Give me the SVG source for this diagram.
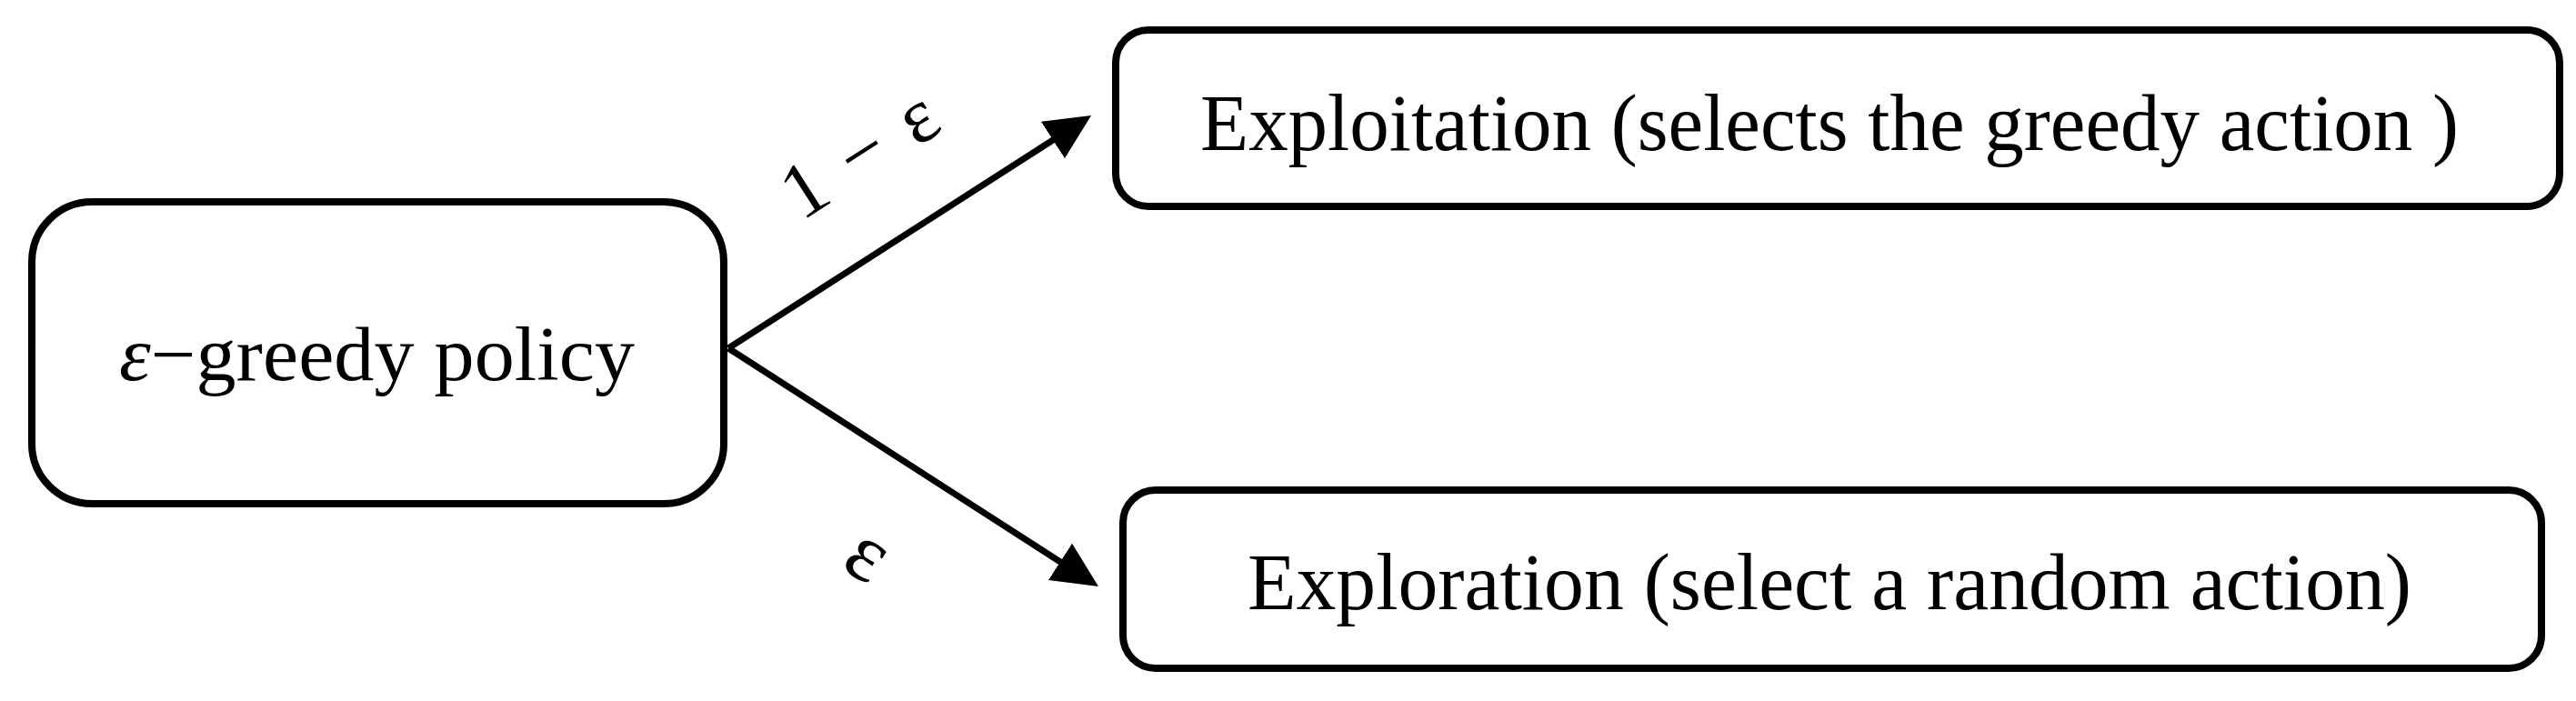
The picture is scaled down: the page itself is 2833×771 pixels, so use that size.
<svg xmlns="http://www.w3.org/2000/svg" width="2833" height="771" viewBox="0 0 2833 771">
  <style>
    .box { fill: #ffffff; stroke: #000000; stroke-width: 8; }
    .lbl { font-family: "Liberation Serif", "Times New Roman", serif; fill: #000000; }
    .edge { stroke: #000000; stroke-width: 7; fill: none; marker-end: url(#arrow); }
  </style>
  <defs>
    <marker id="arrow" viewBox="0 0 50 48" refX="20" refY="24" markerWidth="50" markerHeight="48" markerUnits="userSpaceOnUse" orient="auto">
      <path d="M0,0 L50,24 L0,48 Z" fill="#000000"/>
    </marker>
  </defs>
  <rect width="2833" height="771" fill="#ffffff"/>
  <g id="connectors">
    <line class="edge" x1="801" y1="383" x2="1174.8" y2="143.2"/>
    <line class="edge" x1="801" y1="383" x2="1182.8" y2="628.7"/>
    <text class="lbl" font-size="86" text-anchor="middle" letter-spacing="4" transform="translate(962,192) rotate(-32.7)">1 − ε</text>
    <text class="lbl" font-size="92" text-anchor="middle" transform="translate(950,617) rotate(32.7)" dy="20">ε</text>
  </g>
  <g id="node-policy">
    <rect class="box" x="35" y="222" width="761" height="332" rx="66" ry="66"/>
    <text class="lbl" x="131" y="418" font-size="84" textLength="567" lengthAdjust="spacingAndGlyphs"><tspan font-style="italic">ε</tspan>−greedy policy</text>
  </g>
  <g id="node-exploitation">
    <rect class="box" x="1227" y="33" width="1588" height="194" rx="36" ry="36"/>
    <text class="lbl" x="1320" y="165" font-size="88" textLength="1384" lengthAdjust="spacingAndGlyphs">Exploitation (selects the greedy action )</text>
  </g>
  <g id="node-exploration">
    <rect class="box" x="1235" y="539" width="1560" height="196" rx="36" ry="36"/>
    <text class="lbl" x="1372" y="670" font-size="88" textLength="1280" lengthAdjust="spacingAndGlyphs">Exploration (select a random action)</text>
  </g>
</svg>
